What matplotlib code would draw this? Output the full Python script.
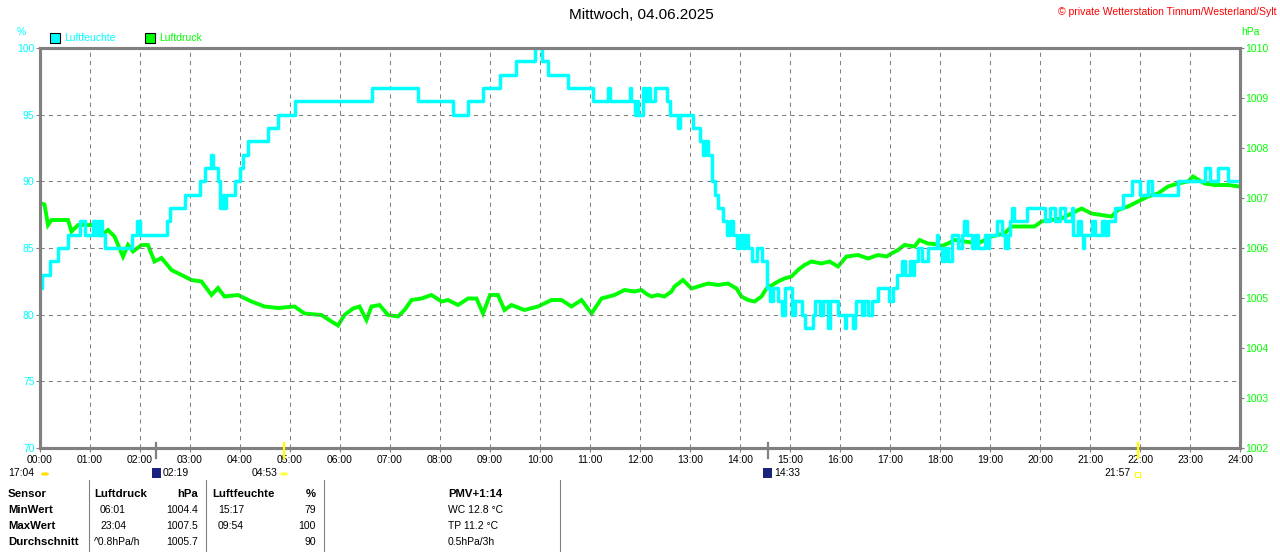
import matplotlib
matplotlib.use("Agg")
import matplotlib.pyplot as plt
from matplotlib.patches import Rectangle, Circle

plt.rcParams['font.family'] = ['Liberation Sans', 'DejaVu Sans']
plt.rcParams['lines.scale_dashes'] = False

W, H = 1280, 552

# Luftfeuchte (%) - step data: hour of change, new value
hum_t = [0.0, 0.03, 0.19, 0.36, 0.56, 0.79, 0.89, 1.06, 1.1, 1.13, 1.17, 1.2, 1.23, 1.29,
         1.83, 1.93, 1.99, 2.53, 2.6, 2.89, 3.19, 3.29, 3.41, 3.45, 3.56, 3.6, 3.65, 3.68,
         3.72, 3.89, 3.99, 4.06, 4.16, 4.56, 4.76, 5.1, 6.63, 7.56, 8.26, 8.56, 8.86, 9.19,
         9.52, 9.89, 10.03, 10.16, 10.56, 11.06, 11.36, 11.39, 11.79, 11.82, 11.89, 11.93,
         11.95, 12.06, 12.12, 12.16, 12.2, 12.29, 12.53, 12.59, 12.75, 12.8, 13.06, 13.19,
         13.26, 13.3, 13.36, 13.43, 13.49, 13.56, 13.66, 13.73, 13.8, 13.85, 13.93, 14.0,
         14.05, 14.1, 14.15, 14.23, 14.33, 14.43, 14.53, 14.6, 14.66, 14.76, 14.83, 14.89,
         15.03, 15.09, 15.23, 15.29, 15.46, 15.49, 15.59, 15.66, 15.76, 15.8, 15.96, 16.09,
         16.12, 16.26, 16.29, 16.33, 16.43, 16.49, 16.56, 16.63, 16.76, 16.99, 17.06, 17.13,
         17.23, 17.29, 17.39, 17.46, 17.49, 17.56, 17.63, 17.76, 17.93, 17.96, 18.03, 18.09,
         18.16, 18.23, 18.36, 18.43, 18.49, 18.53, 18.63, 18.69, 18.76, 18.89, 18.96, 18.99,
         19.13, 19.23, 19.29, 19.36, 19.39, 19.44, 19.48, 19.73, 20.09, 20.19, 20.29, 20.39,
         20.49, 20.63, 20.66, 20.76, 20.81, 20.85, 20.88, 21.03, 21.09, 21.23, 21.29, 21.36,
         21.49, 21.66, 21.83, 21.99, 22.16, 22.23, 22.76, 23.29, 23.39, 23.56, 23.76, 24.0]
hum_v = [82, 83, 84, 85, 86, 87, 86, 87, 86, 87, 86, 87, 86, 85,
         86, 87, 86, 87, 88, 89, 90, 91, 92, 91, 90, 88, 89, 88,
         89, 90, 91, 92, 93, 94, 95, 96, 97, 96, 95, 96, 97, 98,
         99, 100, 99, 98, 97, 96, 97, 96, 97, 96, 95, 96,
         95, 97, 96, 97, 96, 97, 96, 95, 94, 95, 94, 93,
         92, 93, 92, 90, 89, 88, 87, 86, 87, 86, 85, 86,
         85, 86, 85, 84, 85, 84, 82, 81, 82, 81, 80, 82,
         80, 81, 80, 79, 80, 81, 80, 81, 79, 81, 80, 79,
         80, 79, 80, 81, 80, 81, 80, 81, 82, 81, 82, 83,
         84, 83, 84, 83, 84, 85, 84, 85, 86, 85, 84, 85,
         84, 86, 85, 86, 87, 86, 85, 86, 85, 86, 85, 86,
         87, 86, 85, 86, 87, 88, 87, 88, 87, 88, 87, 88,
         87, 88, 86, 87, 86, 85, 86, 87, 86, 87, 86, 87,
         88, 89, 90, 89, 90, 89, 90, 91, 90, 91, 90, 90]

# Luftdruck (hPa)
pres_t = [0.0, 0.09, 0.16, 0.23, 0.4, 0.56, 0.63, 0.76, 1.09, 1.23, 1.36, 1.49, 1.66, 1.76,
          1.86, 2.03, 2.16, 2.29, 2.43, 2.63, 2.83, 3.03, 3.23, 3.43, 3.56, 3.69, 3.96, 4.23,
          4.49, 4.76, 5.09, 5.29, 5.63, 5.83, 5.96, 6.09, 6.26, 6.39, 6.53, 6.63, 6.79, 6.96,
          7.16, 7.29, 7.43, 7.63, 7.83, 8.03, 8.16, 8.36, 8.56, 8.73, 8.86, 9.0, 9.16, 9.29,
          9.43, 9.69, 9.96, 10.23, 10.43, 10.63, 10.83, 11.03, 11.23, 11.49, 11.69, 11.89,
          12.03, 12.13, 12.23, 12.36, 12.49, 12.63, 12.69, 12.86, 13.03, 13.16, 13.36, 13.56,
          13.76, 13.93, 14.03, 14.16, 14.29, 14.43, 14.53, 14.76, 14.89, 15.03, 15.16, 15.29,
          15.43, 15.63, 15.79, 15.96, 16.13, 16.36, 16.56, 16.76, 16.93, 17.03, 17.16, 17.29,
          17.49, 17.59, 17.76, 17.89, 18.03, 18.16, 18.29, 18.49, 18.76, 19.03, 19.29, 19.43,
          19.69, 19.89, 20.03, 20.23, 20.43, 20.63, 20.83, 21.03, 21.23, 21.43, 21.56, 21.76,
          21.96, 22.16, 22.36, 22.56, 22.76, 22.96, 23.06, 23.29, 23.49, 23.76, 23.99]
pres_v = [1006.9, 1006.87, 1006.46, 1006.56, 1006.56, 1006.56, 1006.33, 1006.46, 1006.46,
          1006.26, 1006.36, 1006.23, 1005.83, 1006.06, 1005.93, 1006.06, 1006.06, 1005.73,
          1005.8, 1005.56, 1005.46, 1005.36, 1005.33, 1005.06, 1005.2, 1005.03, 1005.06,
          1004.93, 1004.83, 1004.8, 1004.83, 1004.69, 1004.66, 1004.53, 1004.45, 1004.66,
          1004.79, 1004.83, 1004.56, 1004.83, 1004.86, 1004.66, 1004.63, 1004.76, 1004.96,
          1004.99, 1005.06, 1004.93, 1004.96, 1004.86, 1004.99, 1004.99, 1004.69, 1005.06,
          1005.06, 1004.76, 1004.86, 1004.76, 1004.83, 1004.96, 1004.96, 1004.83, 1004.96,
          1004.69, 1004.99, 1005.06, 1005.16, 1005.13, 1005.16, 1005.08, 1005.03, 1005.06,
          1005.03, 1005.13, 1005.23, 1005.36, 1005.19, 1005.23, 1005.29, 1005.26, 1005.29,
          1005.19, 1005.03, 1004.96, 1004.93, 1005.03, 1005.19, 1005.33, 1005.39, 1005.43,
          1005.56, 1005.66, 1005.73, 1005.69, 1005.73, 1005.63, 1005.83, 1005.86, 1005.79,
          1005.86, 1005.83, 1005.89, 1005.96, 1006.06, 1006.03, 1006.16, 1006.09, 1006.08,
          1006.04, 1006.09, 1006.16, 1006.13, 1006.09, 1006.23, 1006.29, 1006.43, 1006.43,
          1006.43, 1006.53, 1006.56, 1006.59, 1006.69, 1006.79, 1006.69, 1006.66, 1006.63,
          1006.76, 1006.83, 1006.93, 1007.03, 1007.09, 1007.23, 1007.29, 1007.33, 1007.43,
          1007.29, 1007.26, 1007.26, 1007.23]

hours = list(range(25))
hour_labels = [f"{h:02d}:00" for h in hours]
hum_ticks = [70, 75, 80, 85, 90, 95, 100]
pres_ticks = list(range(1002, 1011))

# Astro-Marker auf der Zeitachse (Stunde, Farbe)
mark_t = [2 + 19 / 60, 4 + 53 / 60, 14 + 33 / 60, 21 + 57 / 60]
mark_c = ['#808080', '#FFFF00', '#808080', '#FFFF00']

# Tabelle
tab_rows = ['Sensor', 'MinWert', 'MaxWert', 'Durchschnitt']
druck_zeit = ['Luftdruck', '06:01', '23:04', '^0.8hPa/h']
druck_wert = ['hPa', '1004.4', '1007.5', '1005.7']
feuchte_zeit = ['Luftfeuchte', '15:17', '09:54', '']
feuchte_wert = ['%', '79', '100', '90']
pmv_text = ['PMV+1:14', 'WC 12.8 °C', 'TP 11.2 °C', '0.5hPa/3h']

CYAN = '#00FFFF'
GREEN = '#00FF00'
GRAY = '#808080'

fig = plt.figure(figsize=(W / 100, H / 100), dpi=100)
ax = fig.add_axes([40 / W, 1 - 448 / H, 1200 / W, 400 / H])
ax2 = ax.twinx()
ax.set_zorder(ax2.get_zorder() + 1)
ax.patch.set_visible(False)

def fx(x):
    return x / W

def fy(y):
    return 1 - y / H

# grid
for h in hours[1:-1]:
    ax.axvline(h, color=GRAY, lw=0.75, ls=(0, (3, 3)), zorder=0)
for v in hum_ticks[1:-1]:
    ax.axhline(v, color=GRAY, lw=0.75, ls=(0, (3, 3)), zorder=0)

ax2.plot(pres_t, pres_v, color=GREEN, lw=2.8, solid_joinstyle='miter')
ax.plot(hum_t, hum_v, color=CYAN, lw=2.5, drawstyle='steps-post')

ax.set_xlim(0, 24)
ax.set_ylim(70, 100)
ax2.set_ylim(1002, 1010)

ax.set_xticks(hours)
ax.set_xticklabels(hour_labels, fontsize=7.5, color='black')
ax.set_yticks(hum_ticks)
ax.set_yticklabels([str(v) for v in hum_ticks], fontsize=7.5, color=CYAN)
ax2.set_yticks(pres_ticks)
ax2.set_yticklabels([str(v) for v in pres_ticks], fontsize=7.5, color=GREEN)
ax.tick_params(axis='x', length=3, width=0.8, color=GRAY, pad=2)
ax.tick_params(axis='y', length=3, width=0.8, color=GRAY, pad=1)
ax2.tick_params(axis='y', length=3, width=0.8, color=GRAY, pad=1)

for a in (ax, ax2):
    for s in a.spines.values():
        s.set_color(GRAY)
        s.set_linewidth(2.2)

# Marker an der Zeitachse
for t, c in zip(mark_t, mark_c):
    ax.axvline(t, ymin=-0.024, ymax=0.012, color=c, lw=1.6, clip_on=False, zorder=5)

# Titel und Beschriftungen
fig.text(fx(641), fy(15), 'Mittwoch, 04.06.2025', ha='center', va='center', fontsize=11)
fig.text(fx(1277), fy(12), '© private Wetterstation Tinnum/Westerland/Sylt',
         ha='right', va='center', fontsize=7.5, color='red')
fig.text(fx(21), fy(32), '%', ha='center', va='center', fontsize=7.5, color=CYAN)
fig.text(fx(1250), fy(32), 'hPa', ha='center', va='center', fontsize=7.5, color=GREEN)

# Legende
for x0, col, lab in [(50, CYAN, 'Luftfeuchte'), (145, GREEN, 'Luftdruck')]:
    fig.patches.append(Rectangle((fx(x0), fy(43)), 10 / W, 10 / H, transform=fig.transFigure,
                                 facecolor=col, edgecolor='black', lw=0.8))
    fig.text(fx(x0 + 14), fy(38), lab, ha='left', va='center', fontsize=7.5, color=col)

# Astro-Zeiten unter der Achse
fig.text(fx(8), fy(473), '17:04', ha='left', va='center', fontsize=7.5)
fig.patches.append(Circle((fx(45), fy(474)), 4 / W, transform=fig.transFigure,
                          facecolor='#FFE000', edgecolor='none'))
fig.patches.append(Rectangle((fx(152), fy(478)), 9 / W, 10 / H, transform=fig.transFigure,
                             facecolor='#1A237E', edgecolor='none'))
fig.text(fx(163), fy(473), '02:19', ha='left', va='center', fontsize=7.5)
fig.text(fx(278), fy(473), '04:53', ha='right', va='center', fontsize=7.5)
fig.patches.append(Circle((fx(284), fy(474)), 4 / W, transform=fig.transFigure,
                          facecolor='#FFFF40', edgecolor='none'))
fig.patches.append(Rectangle((fx(763), fy(478)), 9 / W, 10 / H, transform=fig.transFigure,
                             facecolor='#1A237E', edgecolor='none'))
fig.text(fx(774), fy(473), '14:33', ha='left', va='center', fontsize=7.5)
fig.text(fx(1131), fy(473), '21:57', ha='right', va='center', fontsize=7.5)
fig.patches.append(Rectangle((fx(1135), fy(477)), 5 / W, 5 / H, transform=fig.transFigure,
                             facecolor='none', edgecolor='#FFFF00', lw=0.8))

# Tabelle
row_y = [494, 510, 526, 542]
for i, y in enumerate(row_y):
    w = 'bold' if i == 0 else 'normal'
    fs = 8.2 if i == 0 else 7.5
    fig.text(fx(8), fy(y), tab_rows[i], ha='left', va='center', fontsize=8.2, fontweight='bold')
    fig.text(fx(94 if i in (0, 3) else 100), fy(y), druck_zeit[i], ha='left', va='center',
             fontsize=fs, fontweight=w)
    fig.text(fx(198), fy(y), druck_wert[i], ha='right', va='center', fontsize=fs, fontweight=w)
    fig.text(fx(212 if i == 0 else 218), fy(y), feuchte_zeit[i], ha='left', va='center',
             fontsize=fs, fontweight=w)
    fig.text(fx(316), fy(y), feuchte_wert[i], ha='right', va='center', fontsize=fs, fontweight=w)
    fig.text(fx(448), fy(y), pmv_text[i], ha='left', va='center', fontsize=fs, fontweight=w)

for xl in [88.5, 205.5, 323.5, 559.5]:
    fig.add_artist(plt.Line2D([fx(xl), fx(xl)], [fy(480), fy(552)], color=GRAY, lw=0.8,
                              transform=fig.transFigure))

fig.savefig('out.png', dpi=100)
